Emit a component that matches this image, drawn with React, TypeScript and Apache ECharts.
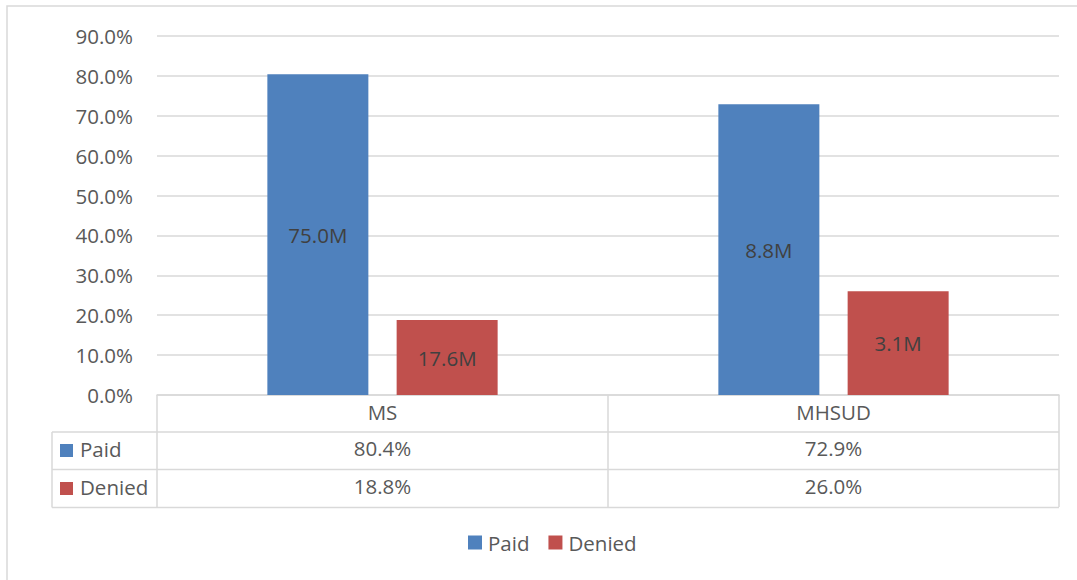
import React, { useEffect, useRef } from "react";
import * as echarts from "echarts";

const categories = ["MS", "MHSUD"];
const paidPct = [80.4, 72.9];
const deniedPct = [18.8, 26.0];
const paidCounts = ["75.0M", "8.8M"];
const deniedCounts = ["17.6M", "3.1M"];
const seriesNames = ["Paid", "Denied"];
const yTicks = { min: 0, max: 90, interval: 10 };

const BLUE = "#4F81BD";
const RED = "#C0504D";
const TEXT = "#595959";
const LINE = "#D9D9D9";
const FONT = "Open Sans";
const FS = 20.5;

export default function App() {
  const ref = useRef<HTMLDivElement>(null);
  useEffect(() => {
    if (!ref.current) return;
    const chart = echarts.init(ref.current, undefined, { renderer: "svg" });
    const pctFmt = (v: number) => v.toFixed(1) + "%";
    const hline = (x1: number, x2: number, y: number) => ({
      type: "line",
      shape: { x1, y1: y, x2, y2: y },
      style: { stroke: LINE, lineWidth: 1.5 },
      silent: true,
    });
    const vline = (x: number, y1: number, y2: number) => ({
      type: "line",
      shape: { x1: x, y1, x2: x, y2 },
      style: { stroke: LINE, lineWidth: 1.5 },
      silent: true,
    });
    const rowLabel = (y: number, color: string, name: string) => [
      { type: "rect", shape: { x: 60, y: y - 6.5, width: 13, height: 13 }, style: { fill: color } },
      {
        type: "text",
        x: 80,
        y: y - 1.5,
        style: { text: name, fill: TEXT, font: `${FS}px "${FONT}"`, textVerticalAlign: "middle" },
      },
    ];
    chart.setOption({
      animation: false,
      backgroundColor: "#ffffff",
      textStyle: { fontFamily: FONT },
      grid: { left: 157, right: 18, top: 36, bottom: 185 },
      legend: {
        data: seriesNames,
        left: 468,
        top: 532,
        padding: 0,
        itemWidth: 14,
        itemHeight: 14,
        itemGap: 19,
        icon: "rect",
        textStyle: { color: TEXT, fontSize: FS, fontFamily: FONT, padding: [0, 0, 0, 1] },
      },
      xAxis: [
        {
          type: "category",
          data: categories,
          axisLine: { show: true, lineStyle: { color: LINE, width: 1.5 } },
          axisTick: { show: true, length: 112, lineStyle: { color: LINE, width: 1.5 } },
          axisLabel: { color: TEXT, fontSize: FS, fontFamily: FONT, margin: 6 },
        },
        {
          type: "category",
          data: paidPct.map(pctFmt),
          position: "bottom",
          offset: 37,
          axisLine: { show: false },
          axisTick: { show: false },
          axisLabel: { color: TEXT, fontSize: FS, fontFamily: FONT, margin: 5 },
        },
        {
          type: "category",
          data: deniedPct.map(pctFmt),
          position: "bottom",
          offset: 74,
          axisLine: { show: false },
          axisTick: { show: false },
          axisLabel: { color: TEXT, fontSize: FS, fontFamily: FONT, margin: 6 },
        },
      ],
      yAxis: {
        type: "value",
        min: yTicks.min,
        max: yTicks.max,
        interval: yTicks.interval,
        axisLine: { show: false },
        axisTick: { show: false },
        splitLine: { lineStyle: { color: LINE, width: 1.5 } },
        axisLabel: {
          color: TEXT,
          fontSize: FS,
          fontFamily: FONT,
          margin: 24,
          formatter: (v: number) => pctFmt(v),
        },
      },
      series: [
        {
          name: seriesNames[0],
          type: "bar",
          xAxisIndex: 0,
          data: paidPct,
          barWidth: 101,
          barGap: "28%",
          itemStyle: { color: BLUE },
          label: {
            show: true,
            position: "inside",
            color: "#404040",
            fontSize: FS,
            fontFamily: FONT,
            formatter: (p: any) => paidCounts[p.dataIndex],
          },
        },
        {
          name: seriesNames[1],
          type: "bar",
          xAxisIndex: 0,
          data: deniedPct,
          barWidth: 101,
          barGap: "28%",
          itemStyle: { color: RED },
          label: {
            show: true,
            position: "inside",
            color: "#404040",
            fontSize: FS,
            fontFamily: FONT,
            formatter: (p: any) => deniedCounts[p.dataIndex],
          },
        },
      ],
      graphic: [
        {
          type: "rect",
          shape: { x: 7, y: 6, width: 1075, height: 600 },
          style: { fill: "none", stroke: LINE, lineWidth: 1.5 },
          silent: true,
          z: -1,
        },
        hline(52, 1059, 432),
        hline(52, 1059, 469.5),
        hline(52, 1059, 507.5),
        vline(52, 432, 507.5),
        ...rowLabel(450.5, BLUE, seriesNames[0]),
        ...rowLabel(488.5, RED, seriesNames[1]),
      ],
    });
    return () => chart.dispose();
  }, []);
  return (
    <div
      ref={ref}
      style={{ position: "fixed", left: 0, top: 0, width: 1077, height: 580 }}
    />
  );
}
